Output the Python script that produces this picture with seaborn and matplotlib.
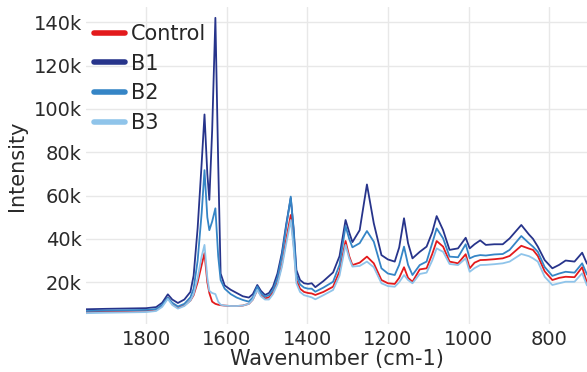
import numpy as np
import pandas as pd
import matplotlib
matplotlib.use("Agg")
import matplotlib.pyplot as plt
import seaborn as sns
from matplotlib.ticker import FuncFormatter

wavenumber = [1949, 1900, 1800, 1775, 1760, 1746, 1735, 1721, 1705, 1690, 1682, 1672, 1662, 1655,
              1648, 1643, 1636, 1628, 1621, 1615, 1605, 1590, 1575, 1560, 1545, 1535, 1524, 1515,
              1505, 1495, 1485, 1474, 1463, 1452, 1441, 1434, 1427, 1418, 1408, 1398, 1389, 1380,
              1360, 1336, 1320, 1305, 1296, 1288, 1270, 1252, 1235, 1216, 1200, 1183, 1172, 1160,
              1150, 1139, 1121, 1104, 1090, 1079, 1063, 1047, 1026, 1007, 997, 985, 971, 957,
              936, 915, 898, 869, 850, 840, 828, 811, 792, 775, 759, 737, 718, 706]

control = [6.3, 6.5, 6.8, 7.3, 9.2, 12.9, 10.0, 8.3, 9.3, 11.5, 14.0, 20.0, 28.0, 33.4,
           20.0, 15.0, 11.0, 10.0, 9.6, 9.4, 9.2, 9.0, 9.0, 9.2, 10.0, 12.0, 16.5, 14.0,
           12.5, 13.0, 15.5, 20.0, 28.0, 40.0, 51.0, 38.0, 21.0, 17.0, 15.5, 15.0, 14.8, 14.1,
           15.5, 17.9, 25.0, 39.0, 32.0, 27.9, 29.0, 31.8, 28.7, 21.0, 19.5, 19.2, 22.0, 26.9,
           22.0, 20.2, 25.9, 26.4, 33.0, 39.0, 36.4, 29.5, 28.7, 32.9, 26.4, 29.0, 30.2, 30.3,
           30.6, 31.0, 32.1, 36.8, 35.5, 34.9, 32.1, 25.0, 21.0, 22.0, 22.5, 22.3, 26.9, 19.6]

b1 = [7.5, 7.7, 8.0, 8.5, 10.5, 14.4, 12.0, 10.4, 12.0, 15.5, 23.0, 45.0, 75.0, 97.4,
      70.0, 58.0, 90.0, 142.0, 75.0, 24.0, 18.5, 16.5, 15.0, 13.5, 12.9, 14.5, 18.7, 16.0,
      14.1, 15.0, 17.9, 24.0, 33.5, 47.0, 58.8, 45.0, 25.6, 21.0, 19.5, 19.2, 19.5, 17.7,
      20.5, 24.5, 32.0, 48.7, 43.0, 38.5, 44.0, 65.1, 47.2, 32.5, 30.5, 29.5, 36.0, 49.5,
      38.0, 31.0, 34.0, 36.4, 43.0, 50.5, 44.0, 34.9, 35.6, 40.5, 35.6, 37.5, 39.3, 37.2,
      37.5, 37.5, 40.2, 46.4, 42.0, 40.0, 36.4, 30.2, 26.4, 28.0, 30.0, 29.5, 33.6, 28.5]

b2 = [6.7, 6.9, 7.2, 7.6, 9.5, 12.9, 10.5, 8.8, 10.0, 13.0, 17.0, 30.0, 52.0, 71.7,
      50.0, 44.0, 48.0, 54.1, 32.0, 21.0, 17.0, 14.5, 12.9, 11.8, 11.0, 13.0, 18.0, 15.0,
      13.3, 14.0, 16.5, 22.0, 32.0, 46.0, 59.5, 44.0, 23.3, 19.0, 17.5, 17.0, 17.0, 15.6,
      17.5, 20.2, 28.0, 45.9, 40.0, 36.1, 38.0, 43.6, 38.7, 26.4, 24.0, 23.3, 28.0, 36.4,
      28.0, 23.3, 27.9, 29.5, 38.0, 44.8, 40.2, 31.8, 31.5, 37.5, 31.0, 32.0, 32.5, 32.3,
      32.8, 33.0, 34.9, 41.3, 38.0, 36.4, 34.0, 27.0, 22.9, 24.0, 24.8, 24.4, 28.7, 23.5]

b3 = [5.7, 5.9, 6.2, 6.7, 8.6, 12.3, 9.5, 7.8, 9.0, 11.5, 14.5, 22.0, 32.0, 37.2,
      22.0, 16.0, 15.0, 14.5, 11.0, 9.6, 9.2, 9.0, 9.0, 9.2, 10.0, 12.0, 16.5, 13.5,
      12.0, 12.0, 14.5, 19.0, 27.0, 38.0, 48.7, 36.0, 19.5, 15.5, 14.0, 13.5, 13.0, 12.1,
      14.0, 16.4, 23.0, 37.2, 31.0, 27.2, 27.5, 29.5, 26.9, 19.5, 18.2, 17.9, 20.0, 23.3,
      21.0, 19.5, 23.8, 24.4, 30.0, 35.6, 34.0, 28.4, 27.9, 31.0, 24.8, 26.5, 27.9, 28.0,
      28.3, 28.7, 29.5, 33.0, 32.0, 31.0, 29.5, 22.5, 18.7, 19.5, 20.2, 20.2, 24.1, 18.5]

series_names = ["Control", "B1", "B2", "B3"]
series_values = [control, b1, b2, b3]
colors = ["#e31a1c", "#27348b", "#3585c6", "#8fc4ea"]

y_ticks = [20000, 40000, 60000, 80000, 100000, 120000, 140000]
x_ticks = [1800, 1600, 1400, 1200, 1000, 800]

frames = []
for name, vals in zip(series_names, series_values):
    frames.append(pd.DataFrame({"Wavenumber": wavenumber,
                                "Intensity": np.array(vals) * 1000.0,
                                "Series": name}))
df = pd.concat(frames, ignore_index=True)

sns.set_style("white")
plt.rcParams["font.family"] = ["DejaVu Sans"]

fig = plt.figure(figsize=(5.87, 3.72), dpi=100)
ax = fig.add_axes([86 / 587, 1 - 324 / 372, 1 - 86 / 587, (324 - 7) / 372])

sns.lineplot(data=df, x="Wavenumber", y="Intensity", hue="Series",
             hue_order=series_names, palette=colors, sort=False,
             estimator=None, linewidth=1.3, ax=ax)

ax.set_xlim(wavenumber[0], wavenumber[-1])
ax.set_ylim(700, 147000)
ax.set_xticks(x_ticks)
ax.set_yticks(y_ticks)
ax.yaxis.set_major_formatter(FuncFormatter(lambda v, p: f"{int(round(v / 1000))}k"))
ax.grid(True, color="#e8e8e8", linewidth=1.0)
ax.set_axisbelow(True)
for s in ax.spines.values():
    s.set_visible(False)
ax.tick_params(axis="both", length=0, labelsize=14, colors="#2a2a2a", pad=3)
ax.tick_params(axis="x", pad=4)

ax.set_xlabel("Wavenumber (cm-1)", fontsize=15, color="#2a2a2a", labelpad=0)
ax.set_ylabel("Intensity", fontsize=15, color="#2a2a2a", labelpad=5)

handles, labels = ax.get_legend_handles_labels()
for h in handles:
    h.set_linewidth(4)
ax.legend(handles, labels, loc="upper left", bbox_to_anchor=(-0.014, 0.992),
          frameon=False, fontsize=15, handlelength=1.5, handletextpad=0.3,
          labelspacing=0.46, borderaxespad=0.3)

fig.savefig("out.png", dpi=100)
